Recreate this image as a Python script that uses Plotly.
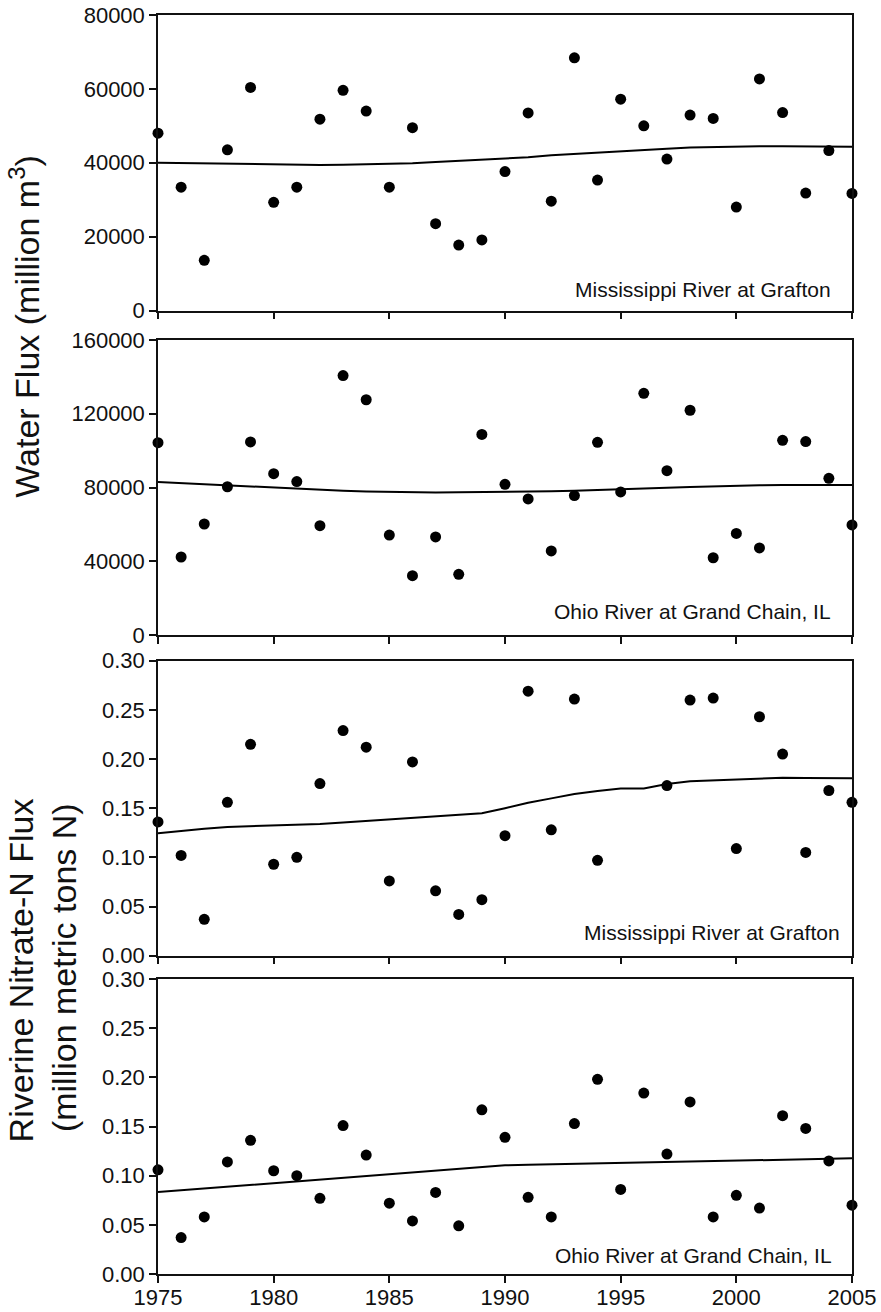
import plotly.graph_objects as go

years = list(range(1975, 2006))

miss_water = [48000, 33400, 13600, 43500, 60400, 29300, 33400, 51800, 59600, 54000,
              33400, 49500, 23500, 17700, 19100, 37600, 53500, 29600, 68400, 35300,
              57200, 50000, 41000, 52900, 52000, 28000, 62700, 53600, 31800, 43300, 31700]
miss_water_trend = [40000, 39900, 39800, 39700, 39600, 39500, 39450, 39400, 39450, 39550,
                    39700, 39850, 40200, 40500, 40800, 41100, 41500, 42000, 42400, 42800,
                    43200, 43500, 43800, 44100, 44300, 44450, 44500, 44500, 44450, 44400, 44300]

ohio_water = [104300, 42300, 60200, 80400, 104700, 87500, 83200, 59300, 140700, 127600,
              54200, 32200, 53200, 32900, 108800, 81700, 73800, 45600, 75600, 104500,
              77600, 131100, 89100, 121900, 41900, 55100, 47200, 105600, 104900, 85000, 59700]
ohio_water_trend = [83000, 82400, 81700, 81000, 80300, 79700, 79200, 78700, 78200, 77800,
                    77500, 77300, 77300, 77400, 77500, 77600, 77800, 78000, 78300, 78600,
                    79000, 79400, 79900, 80300, 80700, 81000, 81200, 81300, 81400, 81400, 81300]

miss_n = [0.136, 0.102, 0.037, 0.156, 0.215, 0.093, 0.100, 0.175, 0.229, 0.212,
          0.076, 0.197, 0.066, 0.042, 0.057, 0.122, 0.269, 0.128, 0.261, 0.097,
          None, None, 0.173, 0.260, 0.262, 0.109, 0.243, 0.205, 0.105, 0.168, 0.156]
miss_n_trend = [0.1245, 0.127, 0.129, 0.131, 0.1318, 0.1325, 0.133, 0.134, 0.1355, 0.137,
                0.1385, 0.140, 0.1415, 0.143, 0.1448, 0.150, 0.1555, 0.160, 0.1645, 0.1675,
                0.170, 0.170, 0.1746, 0.1775, 0.1785, 0.1795, 0.1805, 0.181, 0.1807, 0.1805, 0.1804]

ohio_n = [0.106, 0.037, 0.058, 0.114, 0.136, 0.105, 0.100, 0.077, 0.151, 0.121,
          0.072, 0.054, 0.083, 0.049, 0.167, 0.139, 0.078, 0.058, 0.153, 0.198,
          0.086, 0.184, 0.122, 0.175, 0.058, 0.080, 0.067, 0.161, 0.148, 0.115, 0.070]
ohio_n_trend = [0.0833, 0.0851, 0.0870, 0.0888, 0.0906, 0.0924, 0.0943, 0.0961, 0.0979, 0.0998,
                0.1016, 0.1034, 0.1052, 0.1071, 0.1089, 0.1105, 0.1110, 0.1115, 0.1120, 0.1125,
                0.1130, 0.1135, 0.1140, 0.1145, 0.1150, 0.1155, 0.1160, 0.1165, 0.1170, 0.1173, 0.1176]

panel_labels = ["Mississippi River at Grafton", "Ohio River at Grand Chain, IL",
                "Mississippi River at Grafton", "Ohio River at Grand Chain, IL"]
water_title = "Water Flux (million m<sup>3</sup>)"
n_title_1 = "Riverine Nitrate-N Flux"
n_title_2 = "(million metric tons N)"

FONT = "Liberation Sans, Arial, Helvetica, sans-serif"
INK = "#111111"

series = [(miss_water, miss_water_trend), (ohio_water, ohio_water_trend),
          (miss_n, miss_n_trend), (ohio_n, ohio_n_trend)]

fig = go.Figure()
for i, (pts, trend) in enumerate(series):
    ax = "" if i == 0 else str(i + 1)
    fig.add_trace(go.Scatter(x=years, y=trend, mode="lines",
                             line=dict(color="black", width=2),
                             xaxis="x" + ax, yaxis="y" + ax, showlegend=False,
                             cliponaxis=False))
    fig.add_trace(go.Scatter(x=years, y=pts, mode="markers",
                             marker=dict(color="black", size=11),
                             xaxis="x" + ax, yaxis="y" + ax, showlegend=False,
                             cliponaxis=False))

H = 1259.0
def dom(top_px, bot_px):
    return [(1274 - bot_px) / H, (1274 - top_px) / H]

domains = [dom(15, 310.5), dom(340, 635), dom(660.7, 955.7), dom(979, 1274)]
yranges = [[0, 80000], [0, 160000], [0, 0.30], [0, 0.30]]
ydticks = [20000, 40000, 0.05, 0.05]
yfmts = ["d", "d", ".2f", ".2f"]

layout = dict(
    template="none",
    width=881, height=1312, autosize=False,
    margin=dict(l=158, r=29, t=15, b=38, pad=0),
    paper_bgcolor="white", plot_bgcolor="white",
    font=dict(family=FONT, color=INK, size=22),
    showlegend=False,
)

for i in range(4):
    ax = "" if i == 0 else str(i + 1)
    layout["xaxis" + ax] = dict(
        domain=[0, 1], anchor="y" + ax, range=[1975, 2005], automargin=False,
        tick0=1975, dtick=5, ticks="outside", ticklen=7, tickwidth=1.5,
        tickcolor=INK, showline=True, linecolor=INK, linewidth=1.5,
        mirror=True, showgrid=False, zeroline=False, ticklabelstandoff=-4,
        showticklabels=(i == 3), tickfont=dict(size=22, family=FONT, color=INK),
    )
    layout["yaxis" + ax] = dict(
        domain=domains[i], anchor="x" + ax, range=yranges[i], automargin=False,
        tick0=0, dtick=ydticks[i], tickformat=yfmts[i],
        ticks="outside", ticklen=7, tickwidth=1.5, tickcolor=INK,
        showline=True, linecolor=INK, linewidth=1.5, mirror=True,
        showgrid=False, zeroline=False,
        tickfont=dict(size=22, family=FONT, color=INK),
    )

fig.update_layout(**layout)

label_pos = [(0.9733, 0.0717), (0.9733, 0.081), (0.986, 0.078), (0.9737, 0.062)]
for i, txt in enumerate(panel_labels):
    ax = "" if i == 0 else str(i + 1)
    fig.add_annotation(text=txt, xref="x" + ax + " domain", yref="y" + ax + " domain",
                       x=label_pos[i][0], y=label_pos[i][1], xanchor="right", yanchor="middle",
                       showarrow=False, font=dict(size=21, family=FONT, color=INK))

def px_to_paper_x(px):
    return (px - 158) / 694.0

def px_to_paper_y(py):
    return (1274 - py) / H

fig.add_annotation(text=water_title, xref="paper", yref="paper",
                   x=px_to_paper_x(24.8), y=px_to_paper_y(326), textangle=-90,
                   xanchor="center", yanchor="middle", showarrow=False,
                   font=dict(size=34, family=FONT, color=INK))
fig.add_annotation(text=n_title_1, xref="paper", yref="paper",
                   x=px_to_paper_x(21.4), y=px_to_paper_y(970), textangle=-90,
                   xanchor="center", yanchor="middle", showarrow=False,
                   font=dict(size=34, family=FONT, color=INK))
fig.add_annotation(text=n_title_2, xref="paper", yref="paper",
                   x=px_to_paper_x(64.1), y=px_to_paper_y(968), textangle=-90,
                   xanchor="center", yanchor="middle", showarrow=False,
                   font=dict(size=34, family=FONT, color=INK))

fig.write_html("out.html")
